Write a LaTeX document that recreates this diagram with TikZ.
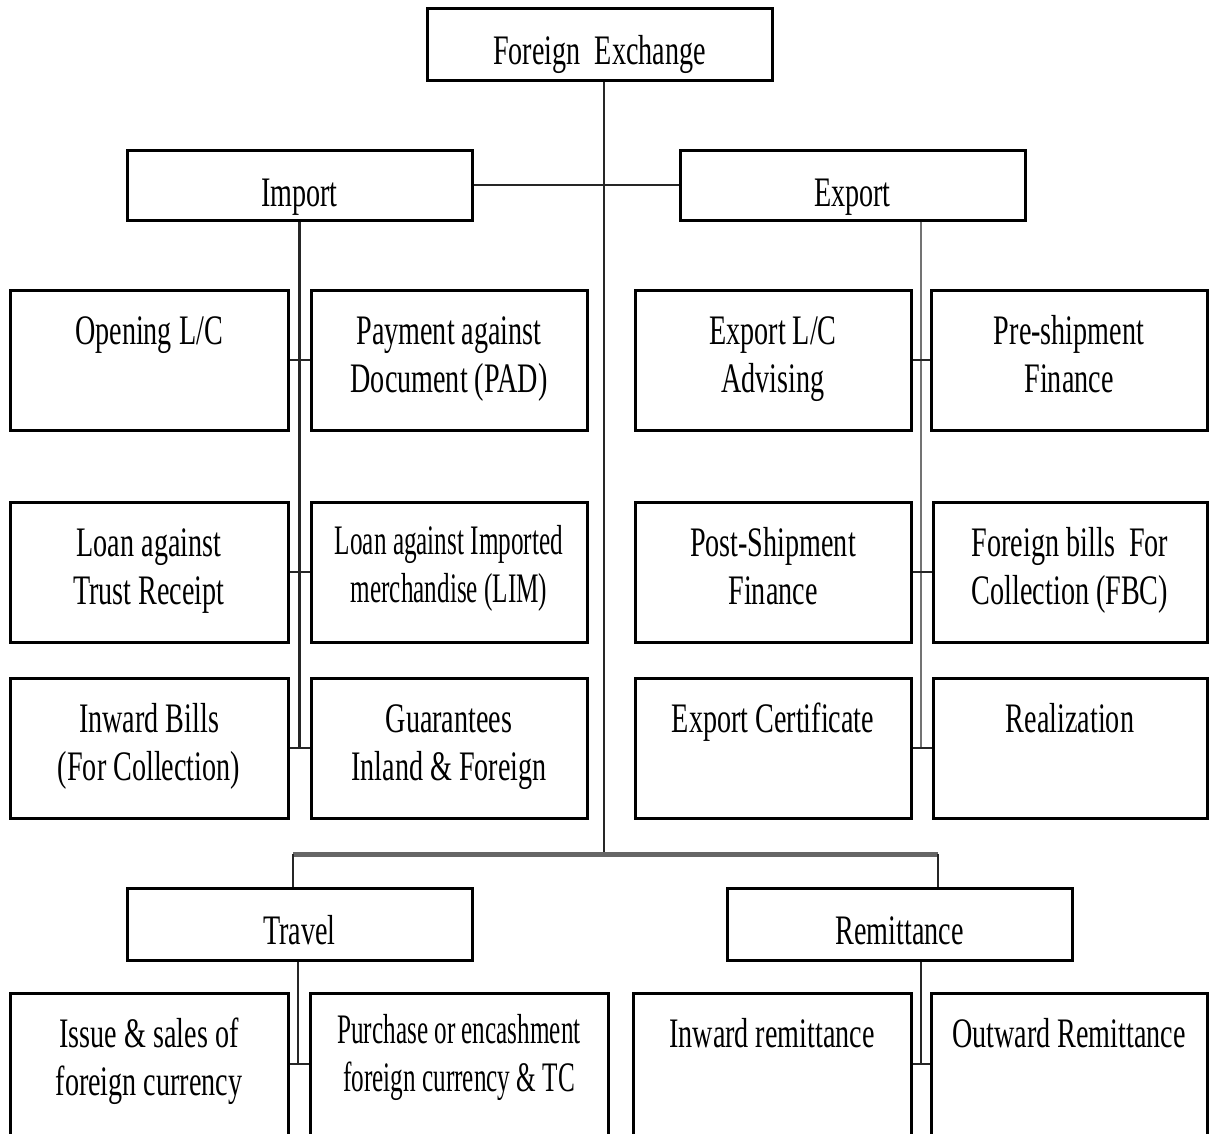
\documentclass[tikz,border=0pt]{standalone}
\usepackage{fontspec}
\setmainfont[FakeStretch=0.67]{Liberation Serif}
\newfontfamily\tightserif[FakeStretch=0.6]{Liberation Serif}
\begin{document}
\begin{tikzpicture}[x=1pt,y=-1pt,
  box/.style={draw=black, line width=3pt, inner sep=0pt, fill=white},
  lbl/.style={anchor=base, inner sep=0pt, text=black,
              font=\fontsize{42}{48}\selectfont},
  conn/.style={draw=black!85, line width=2.2pt},
  spinegray/.style={draw=black!55, line width=2.8pt},
  bar/.style={draw=black!60, line width=5pt}]

\useasboundingbox (0,0) rectangle (1210,1133);

% box: name, x1, y1, x2, y2, baseline offset, text
\newcommand\mkbox[7]{%
  \node[box, minimum width={#4-#2}, minimum height={#5-#3}] (#1)
    at ({(#2+#4)/2},{(#3+#5)/2}) {};
  \node[lbl] (#1-t) at ({(#2+#4)/2},{#3+#6})
    {\begin{tabular}[t]{@{}c@{}}#7\end{tabular}};}

% top levels
\mkbox{fx}{427}{8}{772}{80}{56}{Foreign\ \ Exchange}
\mkbox{imp}{127}{150}{472}{220}{56}{Import}
\mkbox{exp}{680}{150}{1025}{220}{56}{Export}

% import / export items
\mkbox{a1}{10}{290}{288}{430}{54}{Opening L/C}
\mkbox{b1}{311}{290}{587}{430}{54}{Payment against\\Document (PAD)}
\mkbox{c1}{635}{290}{911}{430}{54}{Export L/C\\Advising}
\mkbox{d1}{931}{290}{1207}{430}{54}{Pre-shipment\\Finance}

\mkbox{a2}{10}{502}{288}{642}{54}{Loan against\\Trust Receipt}
\mkbox{b2}{311}{502}{587}{642}{52}{\tightserif Loan against Imported\\\tightserif merchandise (LIM)}
\mkbox{c2}{635}{502}{911}{642}{54}{Post-Shipment\\Finance}
\mkbox{d2}{933}{502}{1207}{642}{54}{Foreign bills\ \ For\\Collection (FBC)}

\mkbox{a3}{10}{678}{288}{818}{54}{Inward Bills\\(For Collection)}
\mkbox{b3}{311}{678}{587}{818}{54}{Guarantees\\Inland \& Foreign}
\mkbox{c3}{635}{678}{911}{818}{54}{Export Certificate}
\mkbox{d3}{933}{678}{1207}{818}{54}{Realization}

% travel / remittance
\mkbox{trv}{127}{888}{472}{960}{56}{Travel}
\mkbox{rem}{727}{888}{1072}{960}{56}{Remittance}

\mkbox{e4}{10}{993}{288}{1135}{54}{Issue \& sales of\\foreign currency}
\mkbox{f4}{310}{993}{608}{1135}{50}{\tightserif Purchase or encashment\\\tightserif foreign currency \& TC}
\mkbox{g4}{633}{993}{911}{1135}{54}{Inward remittance}
\mkbox{h4}{931}{993}{1207}{1135}{54}{Outward Remittance}

% guide positions for the trunk lines
\coordinate (spine) at (604,0);
\coordinate (hbar) at (0,854);
\coordinate (ev) at (921,0);
\coordinate (tl) at (293,0);
\coordinate (rl) at (938,0);
\coordinate (tv) at (298,0);

% main trunk
\draw[conn] (fx.south -| spine) -- (spine |- hbar);
\draw[conn, line width=2.8pt] (imp.east) -- (exp.west);

% import branch
\draw[conn] (imp.south) -- (imp.south |- a3.east);
\draw[conn] (a1.east) -- (b1.west);
\draw[conn] (a2.east) -- (b2.west);
\draw[conn] (a3.east) -- (b3.west);

% export branch
\draw[spinegray] (exp.south -| ev) -- (ev |- c3.east);
\draw[conn] (c1.east) -- (d1.west);
\draw[conn] (c2.east) -- (d2.west);
\draw[conn] (c3.east) -- (d3.west);

% lower bar
\draw[bar] (tl |- hbar) -- (rl |- hbar);
\draw[conn] (tl |- hbar) -- (trv.north -| tl);
\draw[conn] (rl |- hbar) -- (rem.north -| rl);

% travel branch
\draw[conn] (trv.south -| tv) -- (tv |- e4.east);
\draw[conn] (e4.east) -- (f4.west);

% remittance branch
\draw[conn] (rem.south -| ev) -- (ev |- g4.east);
\draw[conn] (g4.east) -- (h4.west);

\end{tikzpicture}
\end{document}
